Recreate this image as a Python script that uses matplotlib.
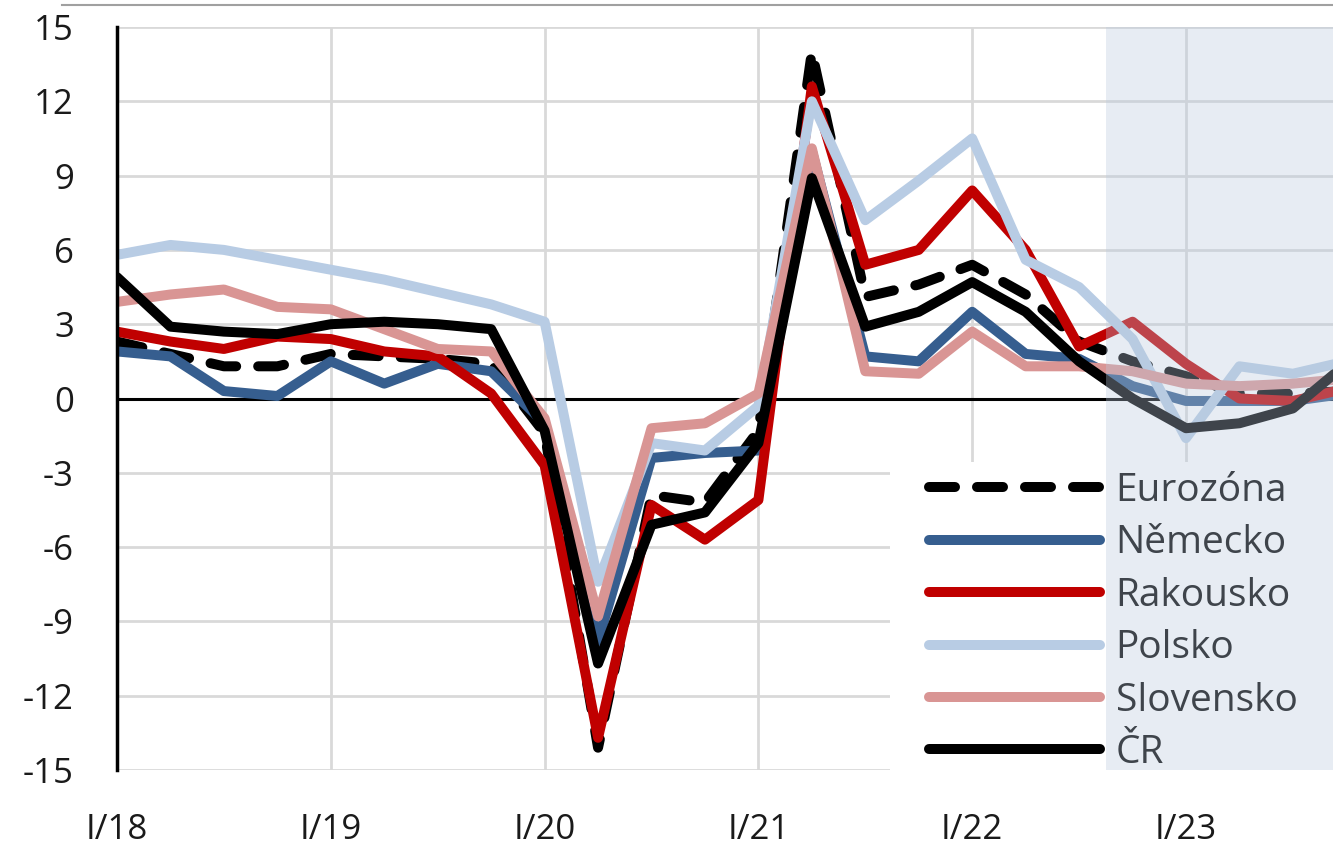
import numpy as np
import matplotlib
matplotlib.use('Agg')
import matplotlib.pyplot as plt
from matplotlib.lines import Line2D
from matplotlib.patches import Rectangle

plt.rcParams['font.family'] = ['Open Sans', 'DejaVu Sans']

#%% data (y/y GDP growth, %, quarters I/18 .. IV/23)

quarters = ['I/18', 'II/18', 'III/18', 'IV/18',
            'I/19', 'II/19', 'III/19', 'IV/19',
            'I/20', 'II/20', 'III/20', 'IV/20',
            'I/21', 'II/21', 'III/21', 'IV/21',
            'I/22', 'II/22', 'III/22', 'IV/22',
            'I/23', 'II/23', 'III/23', 'IV/23']

eurozona = [2.3, 1.8, 1.3, 1.3, 1.8, 1.7, 1.6, 1.4, -1.4, -14.1, -3.9, -4.2,
            -1.3, 14.0, 4.1, 4.6, 5.4, 4.2, 2.3, 1.5, 0.9, 0.2, 0.2, 0.3]
nemecko = [1.9, 1.7, 0.3, 0.1, 1.5, 0.6, 1.4, 1.1, -1.0, -9.8, -2.4, -2.2,
           -2.1, 10.0, 1.7, 1.5, 3.5, 1.8, 1.6, 0.5, -0.1, -0.1, -0.1, 0.2]
rakousko = [2.7, 2.3, 2.0, 2.5, 2.4, 1.9, 1.7, 0.2, -2.7, -13.7, -4.3, -5.7,
            -4.1, 12.6, 5.4, 6.0, 8.4, 6.0, 2.1, 3.1, 1.4, 0.0, -0.1, 0.4]
polsko = [5.8, 6.2, 6.0, 5.6, 5.2, 4.8, 4.3, 3.8, 3.1, -7.4, -1.8, -2.1,
          -0.3, 12.0, 7.2, 8.8, 10.5, 5.6, 4.5, 2.4, -1.6, 1.3, 1.0, 1.5]
slovensko = [3.9, 4.2, 4.4, 3.7, 3.6, 2.8, 2.0, 1.9, -0.8, -8.8, -1.2, -1.0,
             0.2, 10.1, 1.1, 1.0, 2.7, 1.3, 1.3, 1.1, 0.6, 0.5, 0.6, 0.8]
cr = [4.9, 2.9, 2.7, 2.6, 3.0, 3.1, 3.0, 2.8, -1.3, -10.7, -5.1, -4.6,
      -1.8, 8.9, 2.9, 3.5, 4.7, 3.5, 1.5, 0.0, -1.2, -1.0, -0.4, 1.4]

year_ticks = ['I/18', 'I/19', 'I/20', 'I/21', 'I/22', 'I/23']
y_ticks = [15, 12, 9, 6, 3, 0, -3, -6, -9, -12, -15]

series = [('Eurozóna', eurozona, 'black', True),
          ('Německo', nemecko, '#365e8f', False),
          ('Rakousko', rakousko, '#c00000', False),
          ('Polsko', polsko, '#b8cce4', False),
          ('Slovensko', slovensko, '#d99594', False),
          ('ČR', cr, 'black', False)]

#%% figure

W, H = 1333, 850
fig = plt.figure(figsize=(W / 100, H / 100), dpi=100)
ax = fig.add_axes([117 / W, (H - 770) / H, (W - 117) / W, (770 - 27) / H])

x = np.arange(len(quarters))
lw = 7.2
for name, vals, col, dashed in series:
    if dashed:
        ax.plot(x, vals, color=col, lw=lw, label=name, dashes=(2.6, 2.2),
                dash_capstyle='round', dash_joinstyle='round', zorder=3)
    else:
        ax.plot(x, vals, color=col, lw=lw, label=name,
                solid_capstyle='round', solid_joinstyle='round', zorder=3)

ax.set_xlim(0, (W - 117) / 53.45)
ax.set_ylim(-15, 15)

# ticks and grid
ax.set_xticks([quarters.index(q) for q in year_ticks])
ax.set_xticklabels(year_ticks)
ax.set_yticks(y_ticks)
ax.set_yticklabels([str(v) for v in y_ticks])
ax.tick_params(length=0, labelsize=25, labelcolor='#1a1a1a')
ax.tick_params(axis='x', pad=31)
ax.tick_params(axis='y', pad=31)
ax.set_axisbelow(True)
ax.grid(True, color='#d9d9d9', lw=2.0)

for s in ['top', 'right', 'bottom']:
    ax.spines[s].set_visible(False)
ax.spines['left'].set_color('black')
ax.spines['left'].set_linewidth(2.5)
ax.spines['left'].set_zorder(4)
ax.axhline(0, color='black', lw=2.2, zorder=2)

# white box behind the legend
ax.add_patch(Rectangle(((890 - 117) / (W - 117), -0.01), 0.5, 0.425,
                       transform=ax.transAxes, facecolor='white',
                       edgecolor='none', zorder=1.5, clip_on=False))

leg = ax.legend(loc='upper left', bbox_to_anchor=(929 / W, 1 - 472 / H),
                bbox_transform=fig.transFigure, frameon=False, fontsize=28,
                handlelength=4.4, handletextpad=0.4, labelspacing=0.37,
                borderpad=0, borderaxespad=0)
leg.set_zorder(5)

# forecast shading on top of everything
ax.axvspan(18.5, 25, facecolor=(185 / 255, 202 / 255, 222 / 255),
           alpha=0.34, lw=0, zorder=6)

# thin line along the top of the picture
fig.add_artist(Line2D([62 / W, 1], [1 - 4.5 / H, 1 - 4.5 / H],
                      color='#a0a0a0', lw=1.5, transform=fig.transFigure))

fig.savefig('out.png', dpi=100)
